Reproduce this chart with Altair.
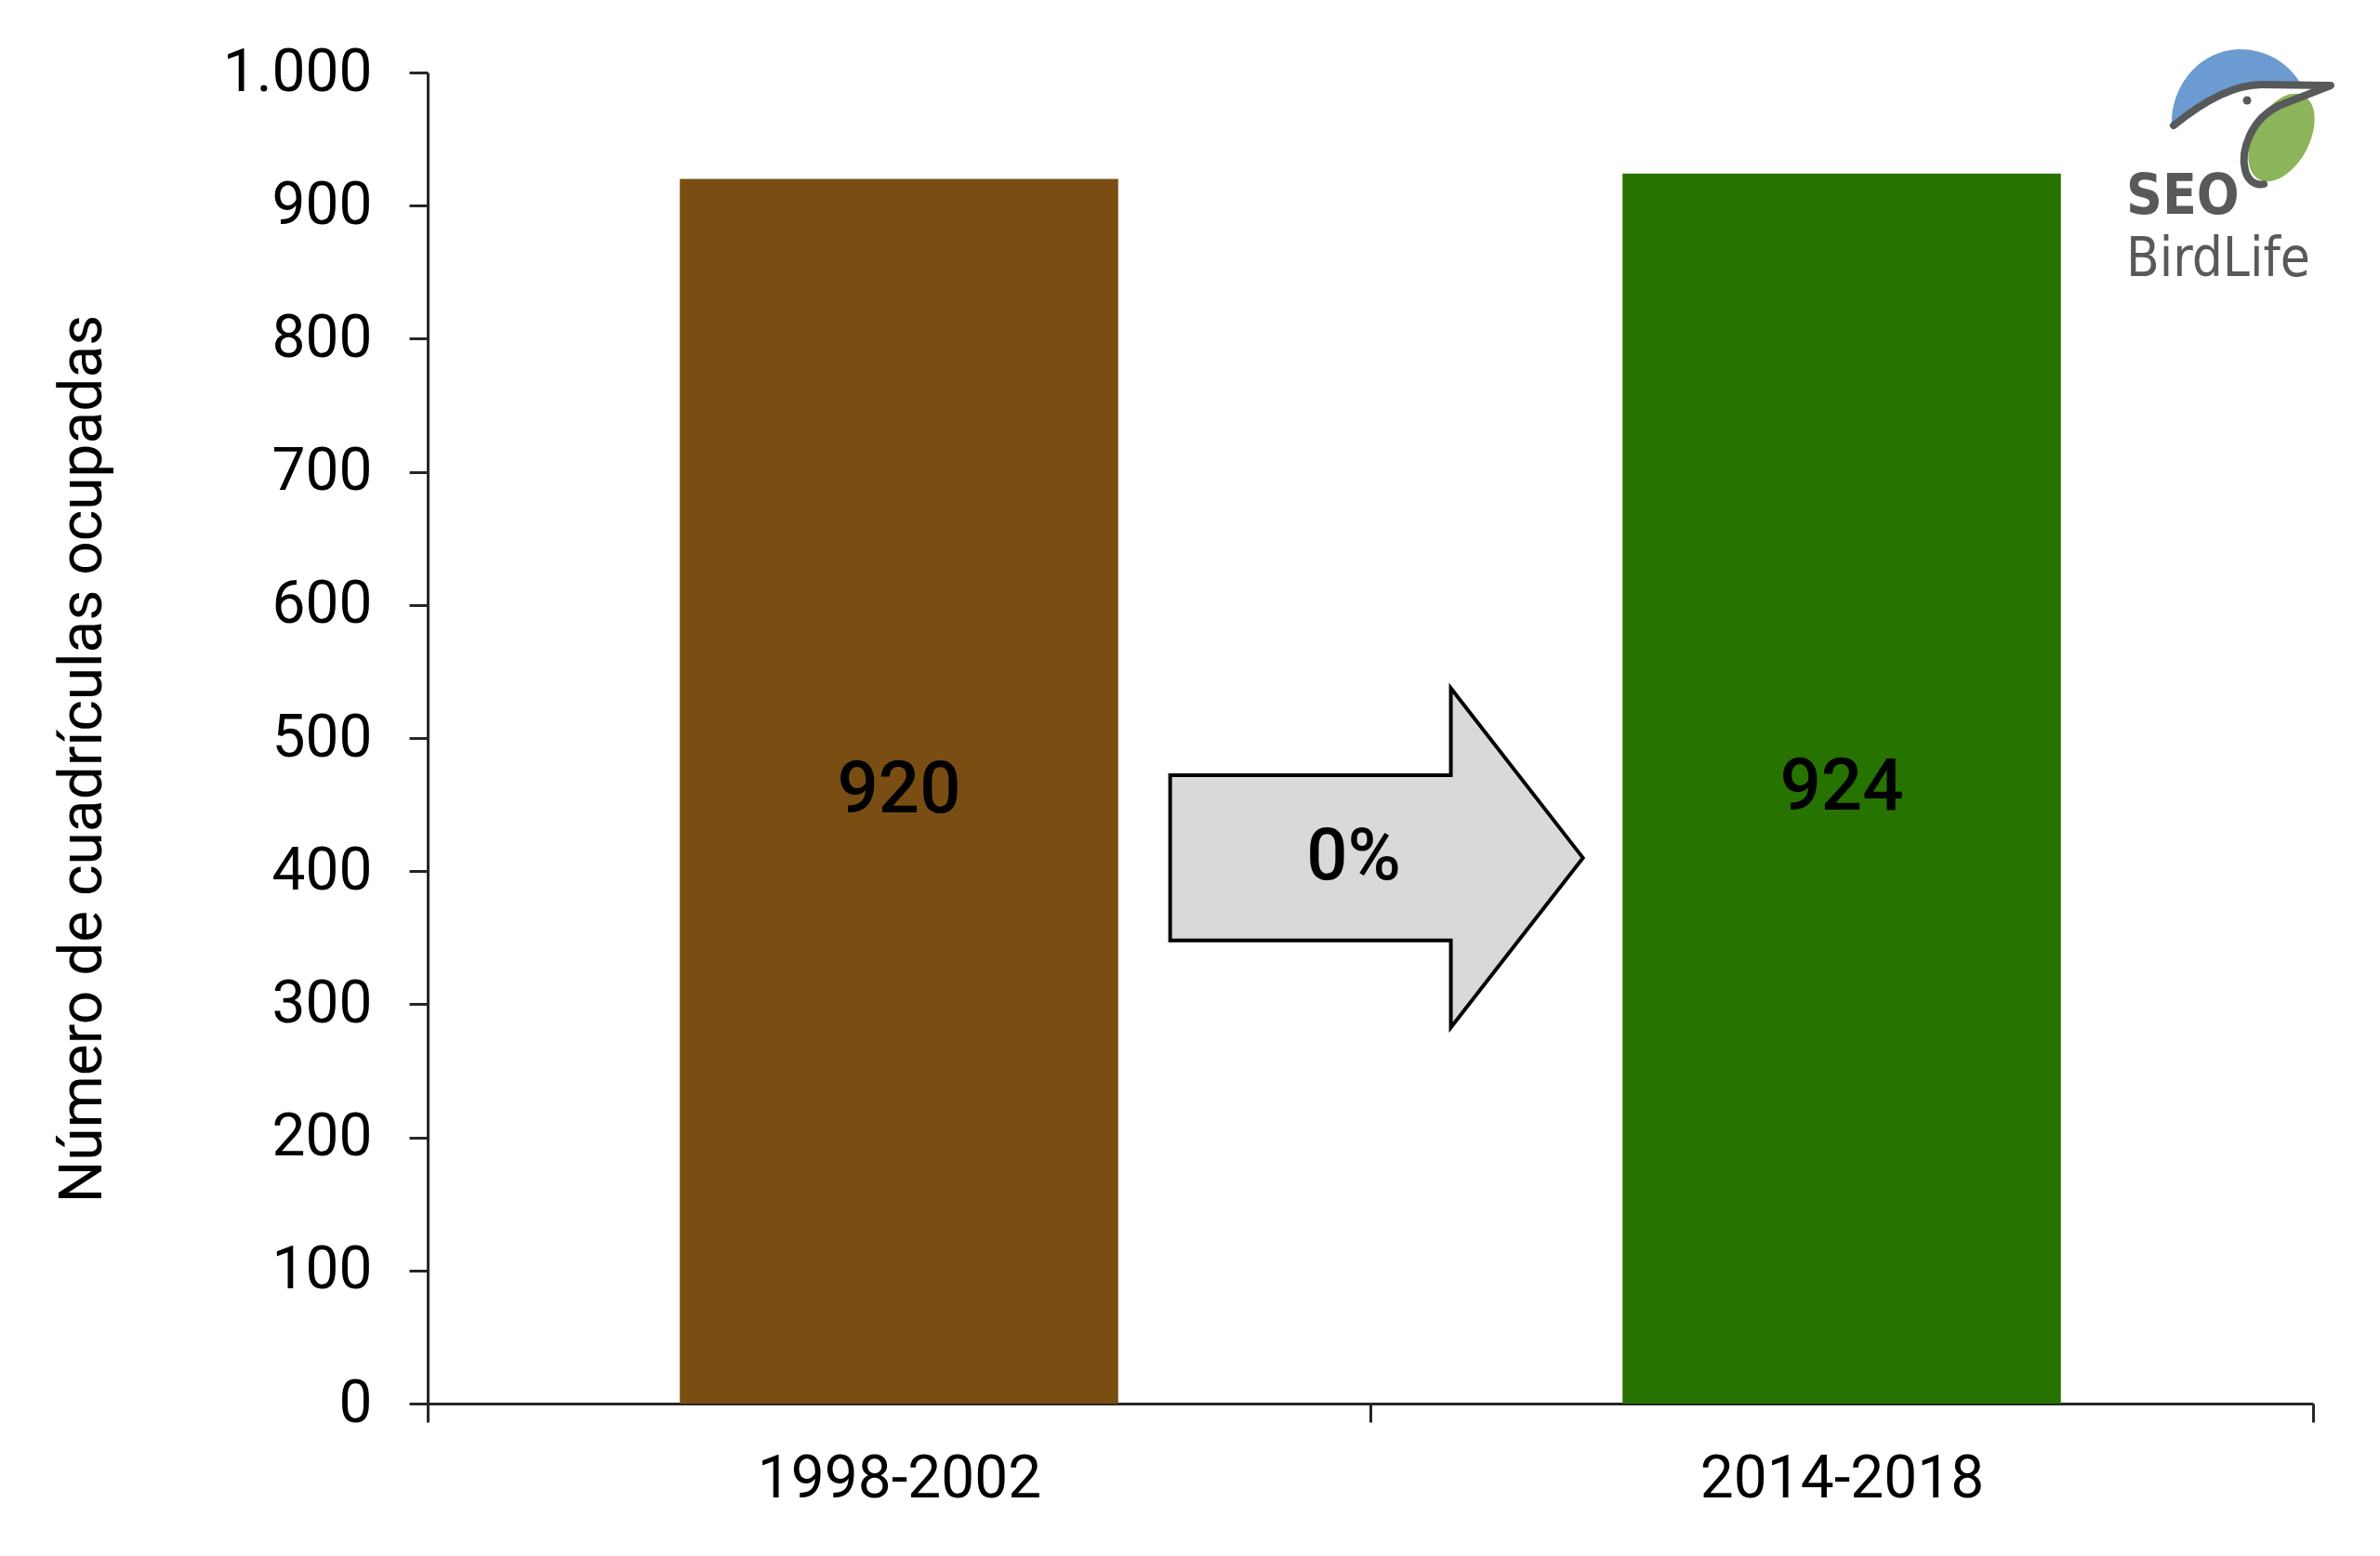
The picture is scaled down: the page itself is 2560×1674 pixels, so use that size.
import altair as alt
import pandas as pd

# ---- data ----
periods = ["1998-2002", "2014-2018"]
occupied = [920, 924]
bar_colors = ["#7a4e12", "#267300"]
y_ticks = [0, 100, 200, 300, 400, 500, 600, 700, 800, 900, 1000]
y_title = "Número de cuadrículas ocupadas"

change_pct = round((occupied[1] - occupied[0]) / occupied[0] * 100)
change_label = f"{change_pct}%"
ARROW_AT = 410  # y-axis value at which the change arrow sits

df = pd.DataFrame({"period": periods, "value": occupied})
arrow_df = pd.DataFrame({"period": [periods[1]], "value": [ARROW_AT], "label": [change_label]})
logo_df = pd.DataFrame({"k": [0]})

W, H = 2028, 1432
FONT = "Roboto"
AXIS_COLOR = "#262626"
LOGO_GRAY = "#58595b"

ARROW_PATH = ("M -0.97 -0.4 L 0.39 -0.4 L 0.39 -0.822 L 1.03 0 L 0.39 0.822 "
              "L 0.39 0.4 L -0.97 0.4 Z")
BLUE_PATH = ("M -0.74 0.07 C -0.75 -0.39 -0.41 -0.75 0 -0.75 "
             "C 0.282 -0.75 0.542 -0.591 0.67 -0.34 L 0.23 -0.37 "
             "C -0.1 -0.37 -0.45 -0.15 -0.74 0.07 Z")
GREEN_PATH = ("M 0.679 -0.25 C 0.825 -0.172 0.837 0.092 0.705 0.341 "
              "C 0.573 0.59 0.347 0.728 0.201 0.65 "
              "C 0.055 0.572 0.043 0.308 0.175 0.059 "
              "C 0.307 -0.19 0.533 -0.328 0.679 -0.25 Z")
OUTLINE_PATH = ("M -0.72 0.07 C -0.45 -0.15 -0.1 -0.37 0.23 -0.37 "
                "L 0.97 -0.36 L 0.43 -0.15 C 0.1 0.0 0.0 0.35 0.05 0.55 "
                "C 0.08 0.68 0.18 0.72 0.25 0.70")

x_enc = alt.X(
    "period:N",
    sort=periods,
    scale=alt.Scale(domain=periods, paddingInner=0, paddingOuter=0),
    axis=alt.Axis(
        title=None, labelAngle=0, labelFont=FONT, labelFontSize=64,
        labelColor="#000000", labelPadding=80, labelBaseline="alphabetic",
        labelLimit=1000,
        tickBand="extent", tickSize=20, tickWidth=3, tickColor=AXIS_COLOR,
        domainColor=AXIS_COLOR, domainWidth=3, grid=False,
    ),
)
y_enc = alt.Y(
    "value:Q",
    scale=alt.Scale(domain=[0, 1000], nice=False, zero=True),
    axis=alt.Axis(
        title=y_title, titleFont=FONT, titleFontSize=64, titleFontWeight="normal",
        titleColor="#000000", titleAngle=-90, titleX=-352, titleY=738,
        titleAlign="center", titleBaseline="alphabetic", titleLimit=2000,
        values=y_ticks, labelExpr="replace(format(datum.value, ','), ',', '.')",
        labelFont=FONT, labelFontSize=64, labelColor="#000000", labelPadding=40,
        labelLimit=1000,
        tickSize=20, tickWidth=3, tickColor=AXIS_COLOR,
        domainColor=AXIS_COLOR, domainWidth=3, grid=False,
    ),
)

bars = alt.Chart(df).mark_bar(width=alt.RelativeBandSize(0.465)).encode(
    x=x_enc,
    y=y_enc,
    color=alt.Color("period:N", scale=alt.Scale(domain=periods, range=bar_colors), legend=None),
)

bar_labels = alt.Chart(df).transform_calculate(half="datum.value / 2").mark_text(
    font=FONT, fontSize=78, fontWeight=500, color="#000000", baseline="middle"
).encode(
    x=alt.X("period:N", sort=periods),
    y=alt.Y("half:Q"),
    text=alt.Text("value:Q"),
)

arrow = alt.Chart(arrow_df).mark_point(
    shape=ARROW_PATH, filled=True, fill="#d9d9d9", stroke="#000000",
    strokeWidth=4, strokeJoin="miter", size=444 ** 2, opacity=1,
).encode(
    x=alt.X("period:N", sort=periods, bandPosition=0),
    y=alt.Y("value:Q"),
)

arrow_text = alt.Chart(arrow_df).mark_text(
    font=FONT, fontSize=78, fontWeight=500, color="#000000", baseline="middle", dx=-18
).encode(
    x=alt.X("period:N", sort=periods, bandPosition=0),
    y=alt.Y("value:Q"),
    text="label:N",
)

# ---- SEO/BirdLife logo (decoration, top right) ----
LX, LY = 1950, 50
logo_blue = alt.Chart(logo_df).mark_point(
    shape=BLUE_PATH, filled=True, fill="#6b9bd1", strokeWidth=0, size=40000, opacity=1
).encode(x=alt.value(LX), y=alt.value(LY))
logo_green = alt.Chart(logo_df).mark_point(
    shape=GREEN_PATH, filled=True, fill="#8cb45a", strokeWidth=0, size=40000, opacity=1
).encode(x=alt.value(LX), y=alt.value(LY))
logo_outline = alt.Chart(logo_df).mark_point(
    shape=OUTLINE_PATH, filled=False, stroke=LOGO_GRAY, strokeWidth=8,
    strokeCap="round", strokeJoin="round", size=40000, opacity=1
).encode(x=alt.value(LX), y=alt.value(LY))
logo_eye = alt.Chart(logo_df).mark_point(
    shape="circle", filled=True, fill=LOGO_GRAY, strokeWidth=0, size=80, opacity=1
).encode(x=alt.value(1957), y=alt.value(30))

NARROW = "Liberation Sans Narrow, DejaVu Sans Condensed, Roboto Condensed, Roboto"
logo_seo = alt.Chart(logo_df).mark_text(
    text="SEO", font=NARROW, fontSize=60, fontWeight="bold", color=LOGO_GRAY,
    align="left", baseline="alphabetic"
).encode(x=alt.value(1827), y=alt.value(152))
logo_bird = alt.Chart(logo_df).mark_text(
    text="BirdLife", font=NARROW, fontSize=58, fontWeight=300, color=LOGO_GRAY,
    align="left", baseline="alphabetic"
).encode(x=alt.value(1827), y=alt.value(219))

chart = alt.layer(
    bars, bar_labels, arrow, arrow_text,
    logo_blue, logo_green, logo_outline, logo_eye, logo_seo, logo_bird,
).properties(
    width=W, height=H,
    autosize=alt.AutoSizeParams(type="none"),
    padding={"left": 452, "top": 70, "right": 64, "bottom": 156},
    background="#ffffff",
).configure_view(strokeWidth=0)

chart.save("out.html", embed_options={"renderer": "svg", "actions": False})
